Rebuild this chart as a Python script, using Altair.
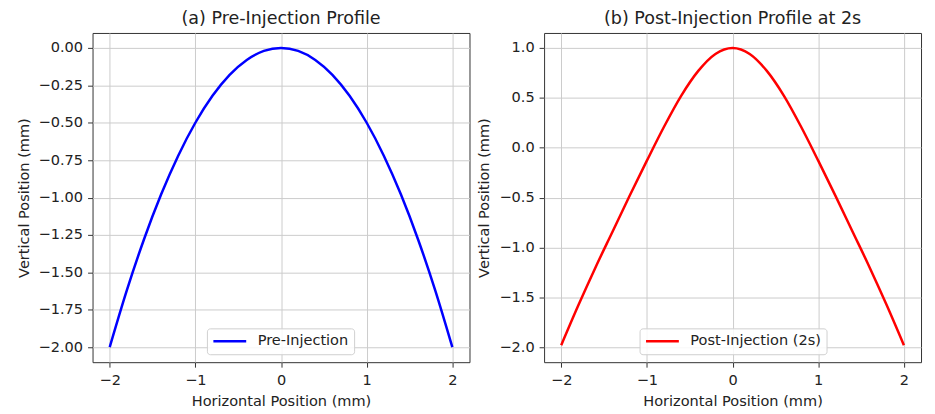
import altair as alt
import pandas as pd

# Horizontal positions (mm)
x_mm = [-2.0, -1.8, -1.6, -1.4, -1.2, -1.0, -0.8, -0.6, -0.4, -0.2, 0.0,
        0.2, 0.4, 0.6, 0.8, 1.0, 1.2, 1.4, 1.6, 1.8, 2.0]
# Vertical positions
pre_y = [-2.00, -1.62, -1.28, -0.98, -0.72, -0.50, -0.32, -0.18, -0.08, -0.02, 0.00,
         -0.02, -0.08, -0.18, -0.32, -0.50, -0.72, -0.98, -1.28, -1.62, -2.00]
# Vertical positions
post_y = [-1.98, -1.58, -1.20, -0.84, -0.48, -0.13, 0.21, 0.52, 0.77, 0.94, 1.00,
          0.94, 0.77, 0.52, 0.21, -0.13, -0.48, -0.84, -1.20, -1.58, -1.98]

titles = ["(a) Pre-Injection Profile", "(b) Post-Injection Profile at 2s"]
series = ["Pre-Injection", "Post-Injection (2s)"]
colors = ["#0000ff", "#ff0000"]
x_ticks = [-2, -1, 0, 1, 2]
y_ticks_a = [-2.0, -1.75, -1.5, -1.25, -1.0, -0.75, -0.5, -0.25, 0.0]
y_ticks_b = [-2.0, -1.5, -1.0, -0.5, 0.0, 0.5, 1.0]

FONT = "DejaVu Sans"
FS = 14.6


def panel(yvals, title, name, color, ydomain, yticks, yfmt, legend_x):
    df = pd.DataFrame({"x": x_mm, "y": yvals, "series": name})
    return alt.Chart(df).mark_line(strokeWidth=2.5, interpolate="monotone").encode(
        x=alt.X("x:Q", scale=alt.Scale(domain=[-2.2, 2.2], nice=False, zero=False),
                axis=alt.Axis(values=x_ticks, format="d", title="Horizontal Position (mm)")),
        y=alt.Y("y:Q", scale=alt.Scale(domain=ydomain, nice=False, zero=False),
                axis=alt.Axis(values=yticks, format=yfmt, title="Vertical Position (mm)")),
        color=alt.Color("series:N", scale=alt.Scale(domain=[name], range=[color]),
                        legend=alt.Legend(title=None, orient="none", legendX=legend_x, legendY=297,
                                          symbolType="stroke", symbolSize=1089, symbolStrokeWidth=2.5,
                                          labelFontSize=FS, labelFont=FONT, labelColor="#222",
                                          labelOffset=10, padding=5, clipHeight=16,
                                          strokeColor="#d0d0d0", fillColor="rgba(255,255,255,0.85)",
                                          cornerRadius=3)),
    ).properties(width=379, height=331,
                 title=alt.TitleParams(title, fontSize=17.6, font=FONT, fontWeight="normal",
                                       color="#222", offset=5))


left = panel(pre_y, titles[0], series[0], colors[0], [-2.1, 0.1], y_ticks_a, ".2f", 115)
right = panel(post_y, titles[1], series[1], colors[1], [-2.15, 1.15], y_ticks_b, ".1f", 96)

chart = alt.hconcat(left, right, spacing=75, bounds="flush").resolve_scale(
    color="independent"
).resolve_legend(
    color="independent"
).configure(
    background="white", padding={"left": 7, "top": 0, "right": 5, "bottom": 5}
).configure_view(
    stroke="#333333", strokeWidth=1
).configure_axis(
    grid=True, gridColor="#cccccc", gridWidth=1, domain=False,
    ticks=True, tickSize=5, tickColor="#333333",
    labelFont=FONT, labelFontSize=FS, labelColor="#222", labelPadding=5,
    titleFont=FONT, titleFontSize=FS, titleFontWeight="normal", titleColor="#222",
    titlePadding=7
)

chart.save("out.html", embed_options={"renderer": "svg", "actions": False})
